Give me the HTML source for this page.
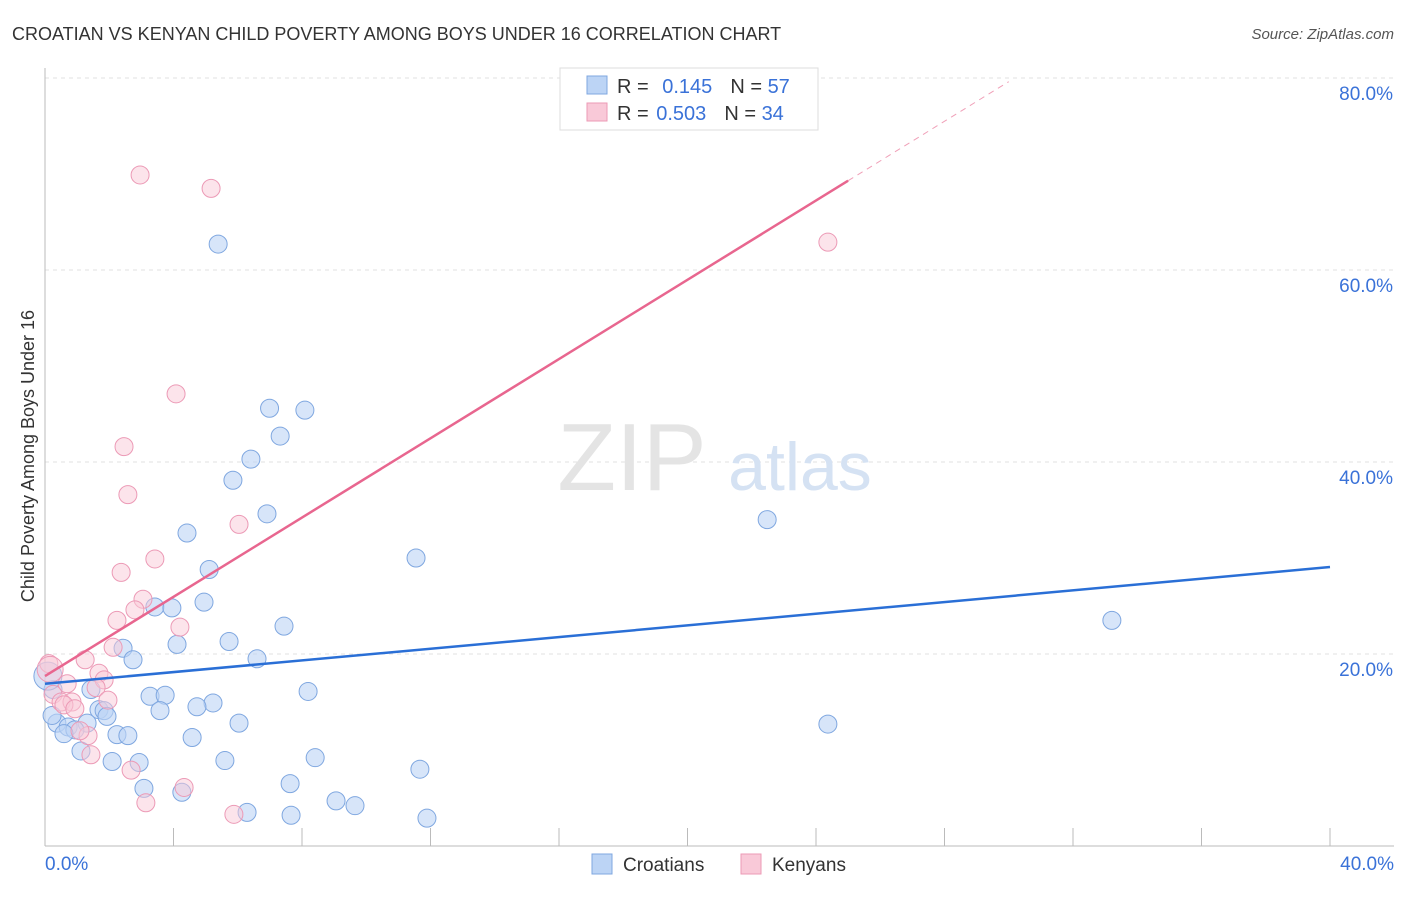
<!DOCTYPE html>
<html><head><meta charset="utf-8"><style>
body{margin:0;background:#fff;font-family:"Liberation Sans",sans-serif;}
svg text{font-family:"Liberation Sans",sans-serif;}
</style></head><body>
<svg width="1406" height="892" xmlns="http://www.w3.org/2000/svg">
<text x="12" y="40" font-size="18" fill="#333">CROATIAN VS KENYAN CHILD POVERTY AMONG BOYS UNDER 16 CORRELATION CHART</text>
<text x="1394" y="39" font-size="15" fill="#555" text-anchor="end" font-style="italic">Source: ZipAtlas.com</text>
<g id="grid"></g>
<text x="632" y="490" font-size="96" fill="#e4e4e4" font-family="Liberation Serif" text-anchor="middle">ZIP</text>
<text x="800" y="490" font-size="68" fill="#d5e2f3" text-anchor="middle">atlas</text>
<text transform="translate(34,456) rotate(-90)" font-size="18" fill="#333" text-anchor="middle">Child Poverty Among Boys Under 16</text>
<g id="marks"></g>
<g>
<rect x="560" y="68" width="258" height="62" fill="#fff" stroke="#ddd"/>
<rect x="587" y="76" width="20" height="18" fill="#bcd4f5" stroke="#7fa7e0"/>
<rect x="587" y="103" width="20" height="18" fill="#f9c9d8" stroke="#ec9ab6"/>
<text x="617" y="93" font-size="20" fill="#333">R = <tspan fill="#3a72d8" dx="8">0.145</tspan><tspan dx="18" fill="#333">N = </tspan><tspan fill="#3a72d8">57</tspan></text>
<text x="617" y="120" font-size="20" fill="#333">R = <tspan fill="#3a72d8" dx="2">0.503</tspan><tspan dx="18" fill="#333">N = </tspan><tspan fill="#3a72d8">34</tspan></text>
</g>
<g>
<rect x="592" y="854" width="20" height="20" fill="#bcd4f5" stroke="#7fa7e0"/>
<text x="623" y="871" font-size="19" fill="#333">Croatians</text>
<rect x="741" y="854" width="20" height="20" fill="#f9c9d8" stroke="#ec9ab6"/>
<text x="772" y="871" font-size="19" fill="#333">Kenyans</text>
</g>
</svg>
<script>
const yTicks=[20,40,60,80];
const xTickLabels=["0.0%","40.0%"];
const croX=[5.39,6.99,8.09,7.32,6.41,5.85,6.91,4.42,11.55,5.11,4.95,3.42,3.95,7.44,5.73,4.11,2.43,6.6,2.74,1.43,8.19,3.27,3.74,0.25,5.23,4.73,3.58,1.68,1.84,1.93,6.04,0.37,1.31,0.72,0.93,0.59,2.24,2.58,4.58,1.12,5.6,2.09,2.93,8.41,7.63,3.08,4.26,11.67,9.06,9.65,6.29,7.66,11.89,22.48,33.21,24.37,0.09,0.22];
const croY=[62.7,45.6,45.4,42.7,40.3,38.1,34.6,32.6,30.0,28.8,25.4,24.9,24.8,22.9,21.3,21.0,20.6,19.5,19.4,16.3,16.1,15.6,15.7,16.3,14.9,14.5,14.1,14.2,14.1,13.5,12.8,12.8,12.8,12.4,12.1,11.7,11.6,11.5,11.3,9.9,8.9,8.8,8.7,9.2,6.5,6.0,5.6,8.0,4.7,4.2,3.5,3.2,2.9,34.0,23.5,12.7,17.7,13.6];
const croR=[9,9,9,9,9,9,9,9,9,9,9,9,9,9,9,9,9,9,9,9,9,9,9,9,9,9,9,9,9,9,9,9,9,9,9,9,9,9,9,9,9,9,9,9,9,9,9,9,9,9,9,9,9,9,9,9,14,9];
const kenX=[2.96,5.17,24.37,4.08,2.46,2.58,6.04,3.42,2.37,3.05,2.8,2.24,4.2,2.12,1.25,0.12,1.68,1.84,0.69,1.59,0.25,0.5,0.84,1.96,0.59,0.93,1.34,1.09,1.43,2.68,4.33,3.14,5.88,0.16];
const kenY=[69.9,68.5,62.9,47.1,41.6,36.6,33.5,29.9,28.5,25.7,24.6,23.5,22.8,20.7,19.4,19.0,18.0,17.3,16.9,16.5,15.8,15.0,15.0,15.2,14.7,14.3,11.5,12.0,9.5,7.9,6.1,4.5,3.3,18.4];
const kenR=[9,9,9,9,9,9,9,9,9,9,9,9,9,9,9,9,9,9,9,9,9,9,9,9,9,9,9,9,9,9,9,9,9,13];
const croLine=[16.9,29.06];
const kenLine=[17.7,2.064];
const X=v=>45+v*32.125, Y=v=>846-v*9.6;
const NS="http://www.w3.org/2000/svg";
const grid=document.getElementById('grid'), marks=document.getElementById('marks');
function mk(p,t,a){const e=document.createElementNS(NS,t);for(const k in a)e.setAttribute(k,a[k]);p.appendChild(e);return e;}
yTicks.forEach(t=>{
 const l=mk(grid,'line',{x1:45,x2:1394,y1:Y(t),y2:Y(t),stroke:'#e2e2e2','stroke-dasharray':'4,4'});
 
 
 const tx=mk(grid,'text',{x:1393,y:Y(t)+22,'font-size':19,fill:'#3a72d8','text-anchor':'end'});tx.textContent=t.toFixed(1)+'%';
 
 
});
mk(grid,'line',{x1:45,x2:45,y1:68,y2:846,stroke:'#bbb'});
mk(grid,'line',{x1:45,x2:1394,y1:846,y2:846,stroke:'#bbb'});
for(let i=1;i<=10;i++){mk(grid,'line',{x1:X(i*4),x2:X(i*4),y1:828,y2:846,stroke:'#bbb'});}
[[0,'start',45],[40,'end',1394]].forEach((d,i)=>{const t=mk(grid,'text',{x:d[2],y:870,'font-size':19,fill:'#3a72d8','text-anchor':d[1]});t.textContent=xTickLabels[i];
 
 });
croX.forEach((x,i)=>{const c=mk(marks,'circle',{cx:X(x),cy:Y(croY[i]),r:croR[i],fill:'#bcd4f5','fill-opacity':0.6,stroke:'#7fa7e0','stroke-width':1});
 
 });
kenX.forEach((x,i)=>{const c=mk(marks,'circle',{cx:X(x),cy:Y(kenY[i]),r:kenR[i],fill:'#f9c9d8','fill-opacity':0.5,stroke:'#ec9ab6','stroke-width':1});
 
 });
const bl=mk(marks,'line',{x1:X(0),y1:Y(croLine[0]),x2:X(40),y2:Y(croLine[1]),stroke:'#2a6fd6','stroke-width':2.5});


const pl=mk(marks,'line',{x1:X(0),y1:Y(kenLine[0]),x2:X(25),y2:Y(kenLine[0]+kenLine[1]*25),stroke:'#e8668f','stroke-width':2.5});


const pd=mk(marks,'line',{x1:X(25),y1:Y(kenLine[0]+kenLine[1]*25),x2:X(30),y2:Y(kenLine[0]+kenLine[1]*30),stroke:'#f0a0b8','stroke-width':1,'stroke-dasharray':'6,5'});


</script>
</body></html>
